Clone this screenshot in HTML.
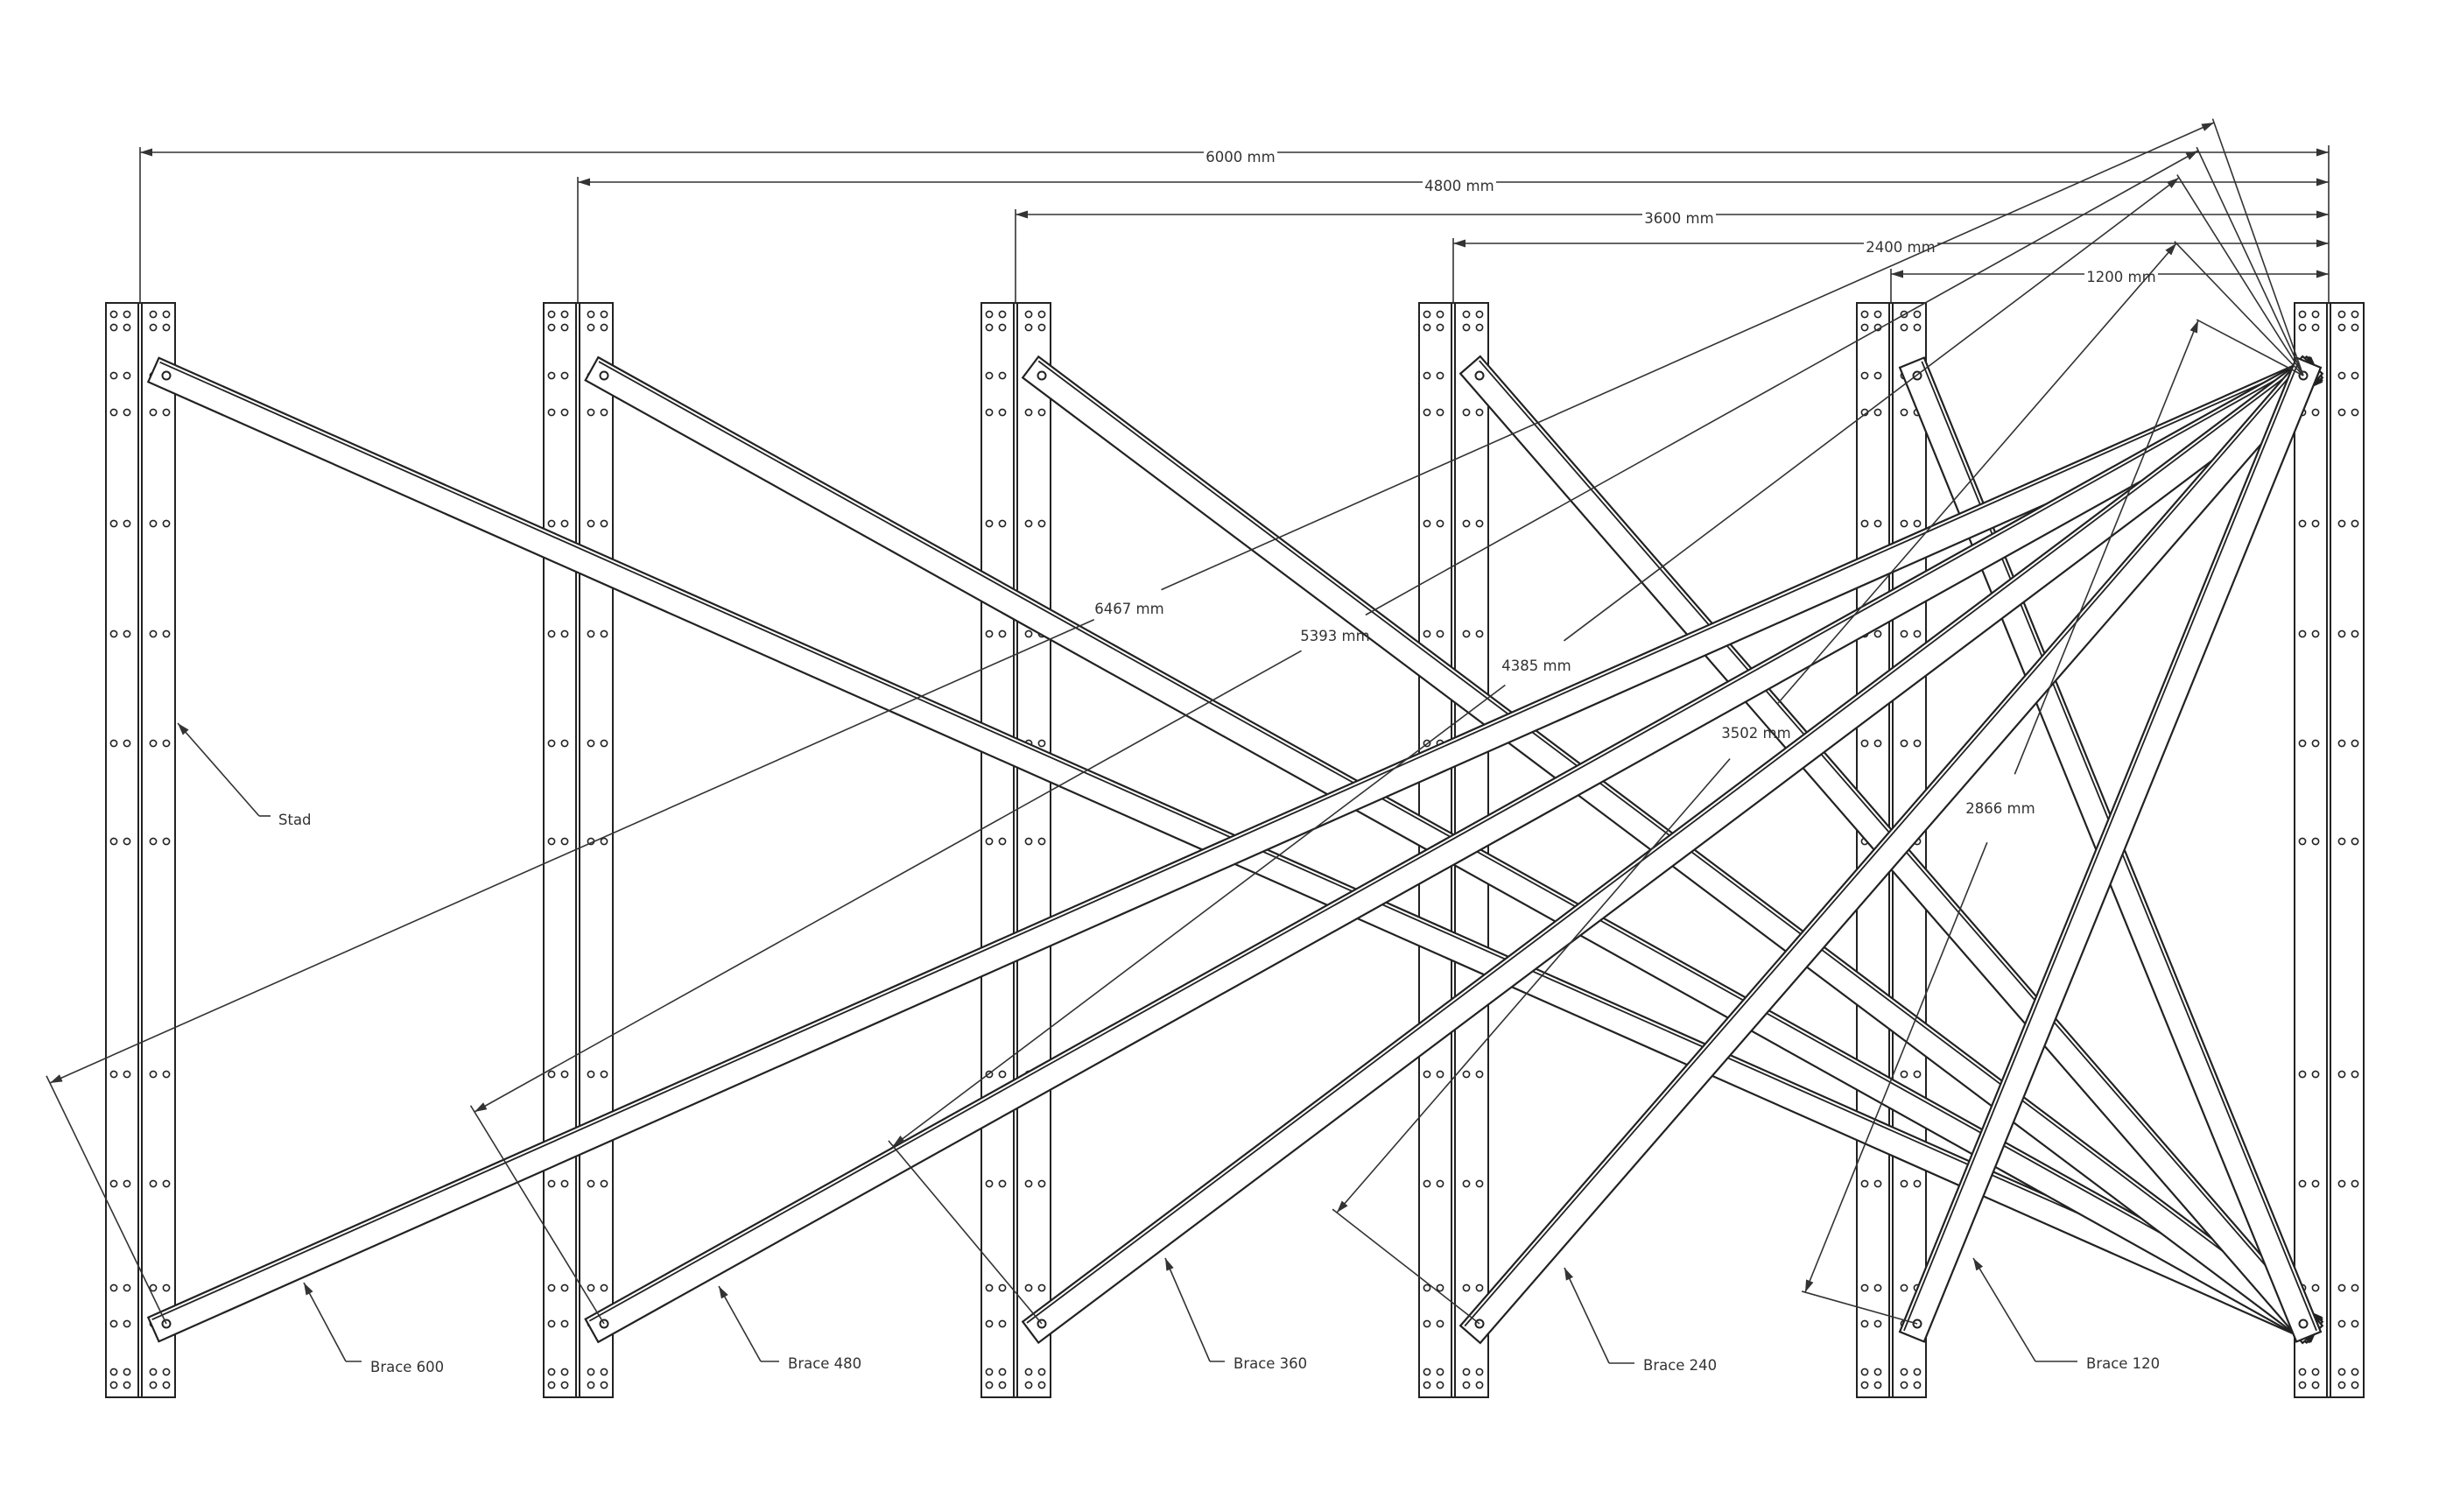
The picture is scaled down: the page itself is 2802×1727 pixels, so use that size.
<!DOCTYPE html>
<html><head><meta charset="utf-8"><style>
html,body{margin:0;padding:0;background:#fff;}
svg{display:block;}
text{font-family:"DejaVu Sans","Liberation Sans",sans-serif;font-size:16.5px;fill:#333;}
</style></head><body>
<svg id="s" width="2802" height="1727" viewBox="0 0 2802 1727" xmlns="http://www.w3.org/2000/svg">
<g id="posts"></g><g id="braces"></g><g id="dims"></g>
<g id="labels">
<text x="1417" y="185" text-anchor="middle">6000 mm</text>
<text x="1667" y="218" text-anchor="middle">4800 mm</text>
<text x="1918" y="255" text-anchor="middle">3600 mm</text>
<text x="2171" y="288" text-anchor="middle">2400 mm</text>
<text x="2423" y="322" text-anchor="middle">1200 mm</text>
<text x="1290" y="701" text-anchor="middle">6467 mm</text>
<text x="1525" y="732" text-anchor="middle">5393 mm</text>
<text x="1755" y="766" text-anchor="middle">4385 mm</text>
<text x="2006" y="843" text-anchor="middle">3502 mm</text>
<text x="2285" y="929" text-anchor="middle">2866 mm</text>
<text x="318" y="942">Stad</text>
<text x="423" y="1567">Brace 600</text>
<text x="900" y="1563">Brace 480</text>
<text x="1409" y="1563">Brace 360</text>
<text x="1877" y="1565">Brace 240</text>
<text x="2383" y="1563">Brace 120</text>
</g>
</svg>
<script>
const NS="http://www.w3.org/2000/svg";
function el(p,t,a){const e=document.createElementNS(NS,t);for(const k in a)e.setAttribute(k,a[k]);document.getElementById(p).appendChild(e);return e;}
const rows=[359,374,429,471,598,724,849,961,1227,1352,1471,1512,1567,1582];
for(let i=0;i<6;i++){const d=160+500*i;
 el("posts","rect",{x:d-39,y:346,width:79,height:1250,fill:"#fff",stroke:"#222","stroke-width":2});
 el("posts","line",{x1:d-2,y1:346,x2:d-2,y2:1596,stroke:"#222","stroke-width":2});
 el("posts","line",{x1:d+2,y1:346,x2:d+2,y2:1596,stroke:"#222","stroke-width":2});
 for(const y of rows)for(const ox of [-30,-15,15,30])el("posts","circle",{cx:d+ox,cy:y,r:3.6,fill:"none",stroke:"#222","stroke-width":1.6});
}
function brace(ax,ay,bx,by){let dx=bx-ax,dy=by-ay,L=Math.hypot(dx,dy),ux=dx/L,uy=dy/L,nx=-uy,ny=ux;
 if(ny>0){nx=-nx;ny=-ny;}
 const e=16,h=15;const sx=ax-ux*e,sy=ay-uy*e,ex=bx+ux*e,ey=by+uy*e;
 const p=[[sx+nx*h,sy+ny*h],[ex+nx*h,ey+ny*h],[ex-nx*h,ey-ny*h],[sx-nx*h,sy-ny*h]];
 el("braces","polygon",{points:p.map(q=>q.join(",")).join(" "),fill:"#fff",stroke:"#222","stroke-width":2.2});
 const k=h-4;el("braces","line",{x1:sx+nx*k+ux*3,y1:sy+ny*k+uy*3,x2:ex+nx*k-ux*3,y2:ey+ny*k-uy*3,stroke:"#222","stroke-width":1.8});
 el("braces","circle",{cx:ax,cy:ay,r:4.5,fill:"none",stroke:"#222","stroke-width":2});
 el("braces","circle",{cx:bx,cy:by,r:4.5,fill:"none",stroke:"#222","stroke-width":2});
}
for(let k=0;k<5;k++){brace(190+500*k,429,2631,1512);}
for(let k=0;k<5;k++){brace(190+500*k,1512,2631,429);}
function arrow(x1,y1,x2,y2){
 const L=Math.hypot(x2-x1,y2-y1),ux=(x2-x1)/L,uy=(y2-y1)/L,a=14,w=4.5;
 el("dims","polygon",{points:`${x2},${y2} ${x2-ux*a-uy*w},${y2-uy*a+ux*w} ${x2-ux*a+uy*w},${y2-uy*a-ux*w}`,fill:"#333"});
}
function ln(x1,y1,x2,y2,sw){el("dims","line",{x1,y1,x2,y2,stroke:"#333","stroke-width":sw||1.6});}
const hd=[[160,174,1417],[660,208,1667],[1160,245,1918],[1660,278,2171],[2160,313,2423]];
for(const [x,y,c] of hd){ln(x,y-6,x,346);ln(x,y,c-42,y);ln(c+42,y,2660,y);arrow(2660,y,x,y);arrow(x,y,2660,y);}
ln(2660,166,2660,346);
const dd=[[2529,140,57,1237,190,1512,1290,695],[2511,172,542,1270,690,1512,1525,726],[2489,203,1020,1309,1190,1512,1755,760],[2486,278,1527,1385,1690,1512,2006,837],[2511,366,2062,1476,2190,1512,2285,923]];
for(const [tx,ty,bx,by,hx,hy,cx,cy] of dd){
 ln(2631,429,tx+(tx-2631)*0.015,ty+(ty-429)*0.015);
 ln(hx,hy,bx+(bx-hx)*0.03,by+(by-hy)*0.03);
 const L=Math.hypot(tx-bx,ty-by),ux=(tx-bx)/L,uy=(ty-by)/L;
 const t=((cx-bx)*ux+(cy-by)*uy);const g=42;
 ln(bx,by,bx+ux*(t-g),by+uy*(t-g));ln(bx+ux*(t+g),by+uy*(t+g),tx,ty);
 arrow(tx,ty,bx,by);arrow(bx,by,tx,ty);
}
function leader(ax,ay,bx,by,ex){ln(bx,by,ax,ay);ln(bx,by,ex,by);arrow(bx,by,ax,ay);}
leader(203,826,296,932,309);
leader(347,1465,395,1555,413);
leader(821,1469,869,1555,890);
leader(1331,1437,1382,1555,1399);
leader(1787,1448,1838,1557,1867);
leader(2254,1437,2325,1555,2373);
</script>
</body></html>
